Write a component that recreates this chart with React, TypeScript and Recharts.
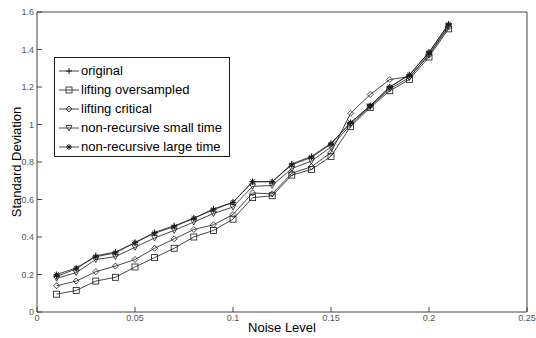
import React from "react"
import { LineChart, Line, XAxis, YAxis, Label } from "recharts"

const noise = [0.01, 0.02, 0.03, 0.04, 0.05, 0.06, 0.07, 0.08, 0.09, 0.1, 0.11, 0.12, 0.13, 0.14, 0.15, 0.16, 0.17, 0.18, 0.19, 0.2, 0.21]

const original = [0.19, 0.23, 0.3, 0.32, 0.37, 0.425, 0.46, 0.5, 0.55, 0.585, 0.695, 0.695, 0.79, 0.83, 0.9, 1.01, 1.1, 1.2, 1.265, 1.385, 1.535]
const liftingOversampled = [0.095, 0.115, 0.165, 0.185, 0.24, 0.29, 0.34, 0.4, 0.435, 0.495, 0.61, 0.62, 0.73, 0.76, 0.83, 0.99, 1.09, 1.18, 1.24, 1.36, 1.51]
const liftingCritical = [0.14, 0.165, 0.215, 0.245, 0.28, 0.34, 0.39, 0.44, 0.465, 0.52, 0.635, 0.63, 0.74, 0.775, 0.85, 1.06, 1.16, 1.24, 1.255, 1.37, 1.52]
const nonRecSmall = [0.18, 0.21, 0.28, 0.295, 0.345, 0.395, 0.435, 0.48, 0.525, 0.56, 0.67, 0.675, 0.765, 0.805, 0.88, 1.0, 1.095, 1.19, 1.25, 1.375, 1.525]
const nonRecLarge = [0.2, 0.235, 0.295, 0.315, 0.37, 0.42, 0.455, 0.5, 0.545, 0.585, 0.695, 0.695, 0.785, 0.825, 0.895, 1.01, 1.1, 1.2, 1.265, 1.385, 1.535]

const xTicks = [0, 0.05, 0.1, 0.15, 0.2, 0.25]
const yTicks = [0, 0.2, 0.4, 0.6, 0.8, 1, 1.2, 1.4, 1.6]

const seriesNames = ["original", "lifting oversampled", "lifting critical", "non-recursive small time", "non-recursive large time"]

const data = noise.map((x, i) => ({
  x,
  s0: original[i],
  s1: liftingOversampled[i],
  s2: liftingCritical[i],
  s3: nonRecSmall[i],
  s4: nonRecLarge[i],
}))

const INK = "#1a1a1a"
const FONT = "Liberation Sans, Arial, sans-serif"

function Marker({ kind, cx, cy }: { kind: number; cx: number; cy: number }) {
  if (cx == null || cy == null) return null
  const s = 3
  switch (kind) {
    case 0:
      return (
        <g stroke={INK} strokeWidth={1}>
          <line x1={cx - s} y1={cy} x2={cx + s} y2={cy} />
          <line x1={cx} y1={cy - s} x2={cx} y2={cy + s} />
        </g>
      )
    case 1:
      return <rect x={cx - s} y={cy - s} width={2 * s} height={2 * s} fill="none" stroke={INK} strokeWidth={0.8} />
    case 2:
      return <polygon points={`${cx},${cy - s} ${cx + s},${cy} ${cx},${cy + s} ${cx - s},${cy}`} fill="none" stroke={INK} strokeWidth={0.8} />
    case 3:
      return <polygon points={`${cx - s},${cy - s + 0.5} ${cx + s},${cy - s + 0.5} ${cx},${cy + s}`} fill="none" stroke={INK} strokeWidth={0.8} />
    default:
      return (
        <g stroke={INK} strokeWidth={1}>
          <line x1={cx - s} y1={cy} x2={cx + s} y2={cy} />
          <line x1={cx} y1={cy - s} x2={cx} y2={cy + s} />
          <line x1={cx - 2.2} y1={cy - 2.2} x2={cx + 2.2} y2={cy + 2.2} />
          <line x1={cx - 2.2} y1={cy + 2.2} x2={cx + 2.2} y2={cy - 2.2} />
        </g>
      )
  }
}

function LegendBox() {
  return (
    <div
      style={{
        position: "absolute",
        left: 54,
        top: 57,
        width: 176,
        height: 100,
        border: `1px solid ${INK}`,
        background: "#fff",
        boxSizing: "border-box",
        padding: "3px 0 0 3px",
        fontFamily: FONT,
        fontSize: 13,
        color: "#000",
      }}
    >
      {seriesNames.map((name, i) => (
        <div key={name} style={{ display: "flex", alignItems: "center", height: 19 }}>
          <svg width={22} height={10} style={{ marginRight: 1 }}>
            <line x1={1} y1={5} x2={21} y2={5} stroke={INK} strokeWidth={0.8} />
            <Marker kind={i} cx={11} cy={5} />
          </svg>
          <span>{name}</span>
        </div>
      ))}
    </div>
  )
}

export default function App() {
  return (
    <div style={{ position: "absolute", left: 0, top: 0, width: 536, height: 338, background: "#fff" }}>
      <LineChart width={536} height={338} data={data} margin={{ top: 11, right: 8, bottom: 0, left: 0 }}>
        <XAxis
          dataKey="x"
          type="number"
          domain={[0, 0.25]}
          ticks={xTicks}
          height={26}
          tickSize={-5}
          tickMargin={8}
          stroke="#444"
          tick={{ fontSize: 9, fill: "#555", fontFamily: FONT }}
        >
          <Label value="Noise Level" position="center" dy={2} style={{ fontSize: 13, fill: "#000", fontFamily: FONT }} />
        </XAxis>
        <XAxis xAxisId="top" orientation="top" dataKey="x" type="number" domain={[0, 0.25]} ticks={xTicks} height={1} tickSize={-5} tick={false} stroke="#444" />
        <YAxis
          domain={[0, 1.6]}
          ticks={yTicks}
          width={37}
          tickSize={-5}
          tickMargin={8}
          stroke="#444"
          tick={{ fontSize: 9, fill: "#555", fontFamily: FONT }}
        >
          <Label value="Standard Deviation" position="center" angle={-90} dx={-2} style={{ fontSize: 13, fill: "#000", fontFamily: FONT }} />
        </YAxis>
        <YAxis yAxisId="right" orientation="right" domain={[0, 1.6]} ticks={yTicks} width={1} tickSize={-5} tick={false} stroke="#444" />
        {[0, 1, 2, 3, 4].map((k) => (
          <Line
            key={k}
            type="linear"
            dataKey={`s${k}`}
            name={seriesNames[k]}
            stroke={INK}
            strokeWidth={0.8}
            isAnimationActive={false}
            dot={(p: any) => <Marker key={`d${k}-${p.index}`} kind={k} cx={p.cx} cy={p.cy} />}
            activeDot={false}
          />
        ))}
      </LineChart>
      <LegendBox />
    </div>
  )
}
